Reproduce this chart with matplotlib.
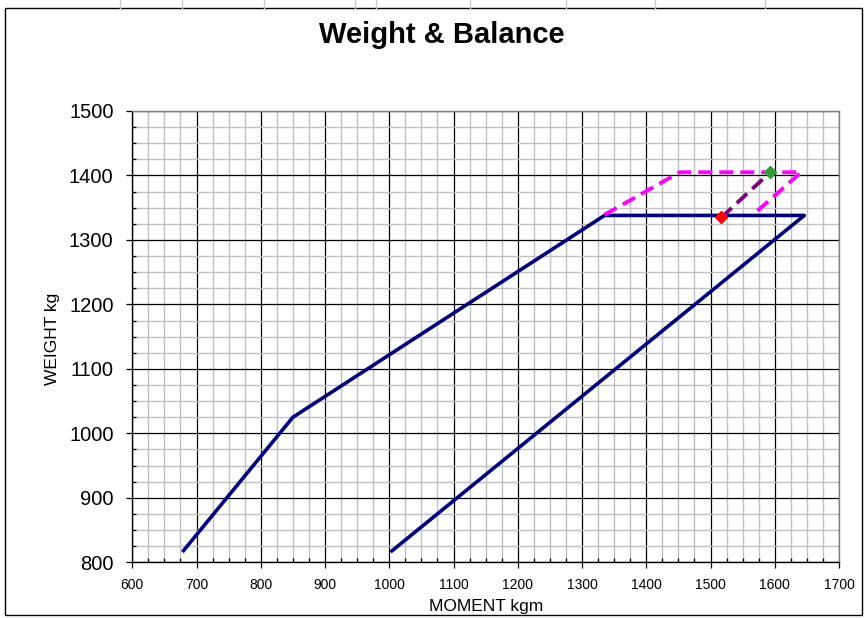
"""Weight & Balance envelope chart, Excel style."""
import matplotlib
matplotlib.use('Agg')
import matplotlib.pyplot as plt
from matplotlib.patches import Rectangle
from matplotlib.lines import Line2D
from matplotlib.ticker import MultipleLocator

# Envelope (navy)
envelope_moment = [678, 850, 1335, 1646, 1002]
envelope_weight = [816, 1025, 1338, 1338, 816]

# Extended envelope (magenta dashed)
extended_moment = [1335, 1452, 1641, 1565]
extended_weight = [1339, 1405, 1405, 1338]

# Loading line (purple dashed) between the two load points
load_moment = [1517, 1593]
load_weight = [1335, 1405]

# Axis ranges
x_range = (600, 1700)
y_range = (800, 1500)

# Style dictionaries
navy_kws = {'color': '#000080', 'lw': 2.6, 'solid_capstyle': 'butt', 'zorder': 3}
magenta_kws = {'color': '#ff00ff', 'lw': 2.8, 'ls': (0, (3.6, 1.8)), 'zorder': 4}
purple_kws = {'color': '#800080', 'lw': 2.8, 'ls': (0, (3.6, 1.8)), 'zorder': 5}

plt.rcParams['font.family'] = ['Liberation Sans', 'DejaVu Sans']
fig = plt.figure(figsize=(8.67, 6.18), dpi=100)

ax = fig.add_axes([132.3 / 867, 1 - 562.3 / 618, (839 - 132.3) / 867, (562.3 - 111) / 618])

# Gridlines
ax.xaxis.set_major_locator(MultipleLocator(100))
ax.xaxis.set_minor_locator(MultipleLocator(25))
ax.yaxis.set_major_locator(MultipleLocator(100))
ax.yaxis.set_minor_locator(MultipleLocator(25))
ax.grid(which='minor', color='#c0c0c0', lw=1.0, zorder=0)
ax.grid(which='major', color='black', lw=0.9, zorder=1)
ax.set_axisbelow(True)

# Data
ax.plot(envelope_moment, envelope_weight, **navy_kws)
ax.plot(extended_moment, extended_weight, **magenta_kws)
ax.plot(load_moment, load_weight, **purple_kws)
ax.plot(load_moment[0], load_weight[0], marker='D', ms=6.5, color='#ff0000',
        ls='none', zorder=6)
ax.plot(load_moment[1], load_weight[1], marker='D', ms=6.5, color='#339933',
        ls='none', zorder=6)

ax.set_xlim(*x_range)
ax.set_ylim(*y_range)

# Spines
for side in ['top', 'right']:
    ax.spines[side].set_color('#808080')
    ax.spines[side].set_linewidth(1.0)
for side in ['left', 'bottom']:
    ax.spines[side].set_color('black')
    ax.spines[side].set_linewidth(1.0)

# Ticks
ax.tick_params(which='major', direction='out', length=4.5, width=0.9)
ax.tick_params(which='minor', direction='in', length=3, width=0.9)
ax.tick_params(axis='y', which='major', labelsize=14.5, pad=9)
ax.tick_params(axis='x', which='major', labelsize=10, pad=6.5)

# Labels
fig.text(442 / 867, 1 - 35 / 618, 'Weight & Balance', fontsize=21,
         fontweight='bold', ha='center', va='center')
fig.text(53 / 867, 1 - 339 / 618, 'WEIGHT kg', fontsize=12.5, rotation=90,
         ha='center', va='center')
fig.text(486 / 867, 1 - 606 / 618, 'MOMENT kgm', fontsize=12.5,
         ha='center', va='center')

# Chart area border
fig.patches.append(Rectangle((5 / 867, 1 - 615 / 618), 857 / 867, 607 / 618,
                             transform=fig.transFigure, fill=False,
                             edgecolor='black', lw=1.0))

# Spreadsheet cell lines peeking above the chart
for px in [120, 182, 264, 355, 376, 470, 566, 655, 765]:
    fig.lines.append(Line2D([px / 867, px / 867], [1 - 8 / 618, 1.0],
                            transform=fig.transFigure, color='#c8c8c8', lw=1))

fig.savefig('out.png', dpi=100)
